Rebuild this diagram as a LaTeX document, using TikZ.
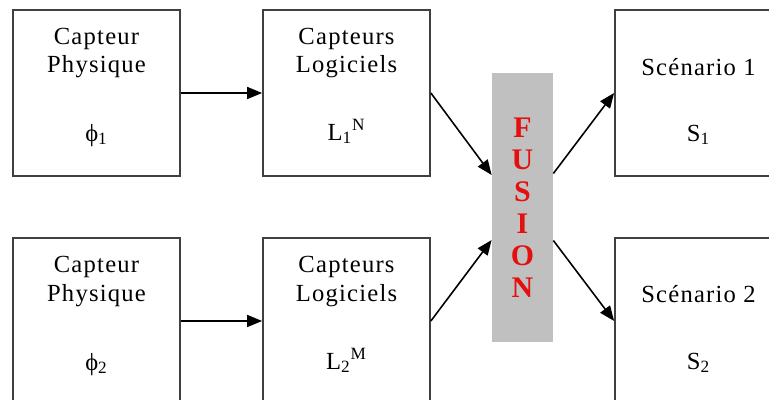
\documentclass[tikz,border=0pt]{standalone}
\usepackage{fontspec}
\setmainfont{Liberation Serif}[LetterSpace=5]
\usetikzlibrary{calc,positioning,arrows.meta}
\definecolor{fusiongray}{RGB}{192,192,192}
\definecolor{fusionred}{RGB}{228,16,16}
\definecolor{boxgray}{RGB}{64,64,64}

\begin{document}
\begin{tikzpicture}[
  box/.style={draw=boxgray, line width=1pt, rectangle, minimum width=3.34cm, minimum height=3.32cm},
  txt/.style={anchor=base, font=\fontsize{14}{17}\selectfont},
  link/.style={line width=0.9pt, -{Triangle[length=0.3cm,width=0.24cm]}}
]
  \path[use as bounding box, fill=white] (0,0) rectangle (15.38,-8);
  \clip (0,0) rectangle (15.38,-8);

  % capteurs physiques
  \node[box] (phys1) at (1.93,-1.86) {};
  \node[txt] (phys1a) at ([yshift=-0.70cm]phys1.north) {Capteur};
  \node[txt] (phys1b) at ([yshift=-1.26cm]phys1.north) {Physique};
  \node[txt] (phys1c) at ([yshift=-2.64cm]phys1.north) {ϕ\textsubscript{1}};

  \node[box] (phys2) at (1.93,-6.42) {};
  \node[txt] (phys2a) at ([yshift=-0.70cm]phys2.north) {Capteur};
  \node[txt] (phys2b) at ([yshift=-1.28cm]phys2.north) {Physique};
  \node[txt] (phys2c) at ([yshift=-2.66cm]phys2.north) {ϕ\textsubscript{2}};

  % capteurs logiciels
  \node[box] (log1) at (6.93,-1.86) {};
  \node[txt] (log1a) at ([yshift=-0.70cm]log1.north) {Capteurs};
  \node[txt] (log1b) at ([yshift=-1.26cm]log1.north) {Logiciels};
  \node[txt] (log1c) at ([yshift=-2.62cm]log1.north) {L\textsubscript{1}\textsuperscript{N}};

  \node[box] (log2) at (6.93,-6.42) {};
  \node[txt] (log2a) at ([yshift=-0.70cm]log2.north) {Capteurs};
  \node[txt] (log2b) at ([yshift=-1.28cm]log2.north) {Logiciels};
  \node[txt] (log2c) at ([yshift=-2.64cm]log2.north) {L\textsubscript{2}\textsuperscript{M}};

  % fusion
  \node[fill=fusiongray, minimum width=1.22cm, minimum height=5.38cm, inner sep=0pt,
        text=fusionred, align=center, font=\fontsize{17}{18.2}\selectfont\bfseries]
        (fusion) at (10.45,-4.15) {F\\U\\S\\I\\O\\N};

  % scenarios
  \node[box] (scen1) at (13.97,-1.86) {};
  \node[txt] (scen1a) at ([yshift=-1.32cm]scen1.north) {Scénario 1};
  \node[txt] (scen1b) at ([yshift=-2.64cm]scen1.north) {S\textsubscript{1}};

  \node[box] (scen2) at (13.97,-6.42) {};
  \node[txt] (scen2a) at ([yshift=-1.30cm]scen2.north) {Scénario 2};
  \node[txt] (scen2b) at ([yshift=-2.64cm]scen2.north) {S\textsubscript{2}};

  % liens
  \draw[link] (phys1.east) -- (log1.west);
  \draw[link] (phys2.east) -- (log2.west);
  \draw[link] (log1.east) -- ([yshift=0.65cm]fusion.west);
  \draw[link] (log2.east) -- ([yshift=-0.65cm]fusion.west);
  \draw[link] ([yshift=0.68cm]fusion.east) -- (scen1.west);
  \draw[link] ([yshift=-0.66cm]fusion.east) -- (scen2.west);
\end{tikzpicture}
\end{document}
